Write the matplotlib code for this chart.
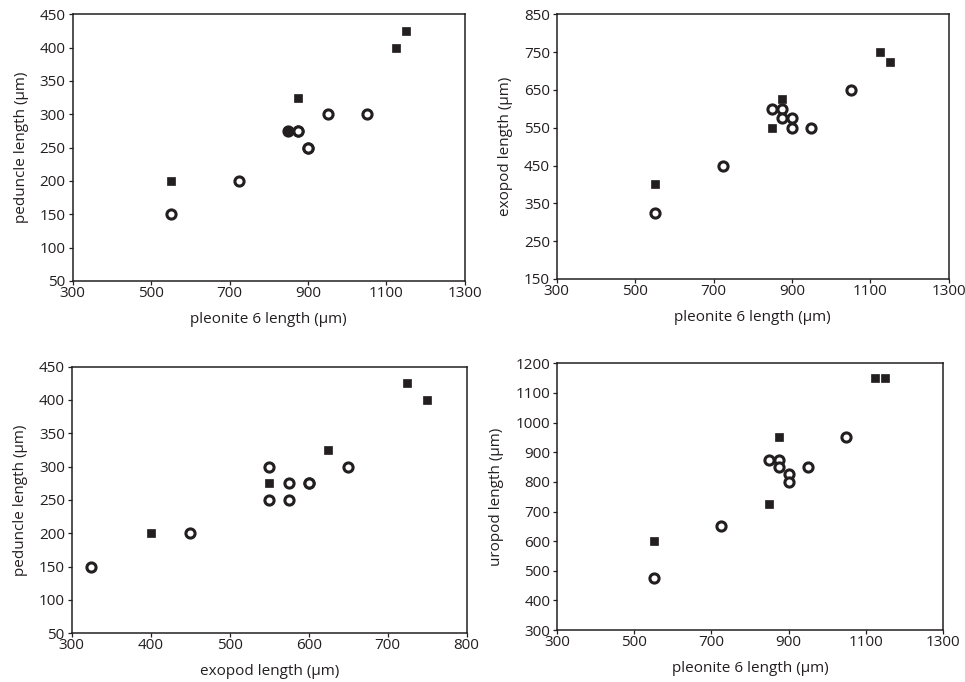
#!/usr/bin/env python3
"""Body-part length scatter panels (squares vs open circles)."""

import matplotlib

matplotlib.use("Agg")
import matplotlib.pyplot as plt

# individuals drawn as filled squares
sq_pleonite = [550, 850, 875, 1125, 1150]
sq_exopod = [400, 550, 625, 750, 725]
sq_peduncle = [200, 275, 325, 400, 425]
sq_uropod = [600, 725, 950, 1150, 1150]

# individuals drawn as open circles
ci_pleonite = [550, 725, 850, 875, 875, 900, 900, 950, 1050]
ci_exopod = [325, 450, 600, 600, 575, 575, 550, 550, 650]
ci_peduncle = [150, 200, 275, 275, 275, 250, 250, 300, 300]
ci_uropod = [475, 650, 875, 875, 850, 825, 800, 850, 950]

x_ticks_pleonite = list(range(300, 1301, 200))
x_ticks_exopod = list(range(300, 801, 100))
y_ticks_peduncle = list(range(50, 451, 50))
y_ticks_exopod = list(range(150, 851, 100))
y_ticks_uropod = list(range(300, 1201, 100))

INK = "#231f20"
FONT = "Open Sans"


def scatter_panel(fig, rect, xs_ci, ys_ci, xs_sq, ys_sq, xticks, yticks, xlabel, ylabel):
    ax = fig.add_axes(rect)
    ax.plot(xs_ci, ys_ci, linestyle="none", marker="o", markersize=6.6,
            markerfacecolor="white", markeredgecolor=INK, markeredgewidth=2.2, zorder=3)
    ax.plot(xs_sq, ys_sq, linestyle="none", marker="s", markersize=5.6,
            markerfacecolor=INK, markeredgecolor=INK, markeredgewidth=0.5, zorder=4)
    ax.set_xlim(xticks[0], xticks[-1])
    ax.set_ylim(yticks[0], yticks[-1])
    ax.set_xticks(xticks)
    ax.set_yticks(yticks)
    ax.tick_params(axis="both", direction="out", length=3, width=0.9, color=INK,
                   labelsize=11, labelcolor=INK, top=False, right=False)
    ax.tick_params(axis="x", pad=0.5)
    ax.tick_params(axis="y", pad=2)
    for label in ax.get_xticklabels() + ax.get_yticklabels():
        label.set_family(FONT)
    for spine in ax.spines.values():
        spine.set_color(INK)
        spine.set_linewidth(1.1)
    ax.set_xlabel(xlabel, fontsize=11, color=INK, family=FONT, labelpad=8)
    ax.set_ylabel(ylabel, fontsize=11, color=INK, family=FONT, labelpad=8)
    return ax


def main():
    fig = plt.figure(figsize=(9.65, 6.82), dpi=100)

    scatter_panel(fig, [0.0753, 0.588, 0.4065, 0.391],
                  ci_pleonite, ci_peduncle, sq_pleonite, sq_peduncle,
                  x_ticks_pleonite, y_ticks_peduncle,
                  "pleonite 6 length (µm)", "peduncle length (µm)")
    scatter_panel(fig, [0.5769, 0.591, 0.4062, 0.388],
                  ci_pleonite, ci_exopod, sq_pleonite, sq_exopod,
                  x_ticks_pleonite, y_ticks_exopod,
                  "pleonite 6 length (µm)", "exopod length (µm)")
    scatter_panel(fig, [0.0743, 0.0714, 0.4093, 0.391],
                  ci_exopod, ci_peduncle, sq_exopod, sq_peduncle,
                  x_ticks_exopod, y_ticks_peduncle,
                  "exopod length (µm)", "peduncle length (µm)")
    scatter_panel(fig, [0.5775, 0.0762, 0.3994, 0.391],
                  ci_pleonite, ci_uropod, sq_pleonite, sq_uropod,
                  x_ticks_pleonite, y_ticks_uropod,
                  "pleonite 6 length (µm)", "uropod length (µm)")

    fig.savefig("out.png", dpi=100)
    plt.close(fig)


if __name__ == "__main__":
    main()
